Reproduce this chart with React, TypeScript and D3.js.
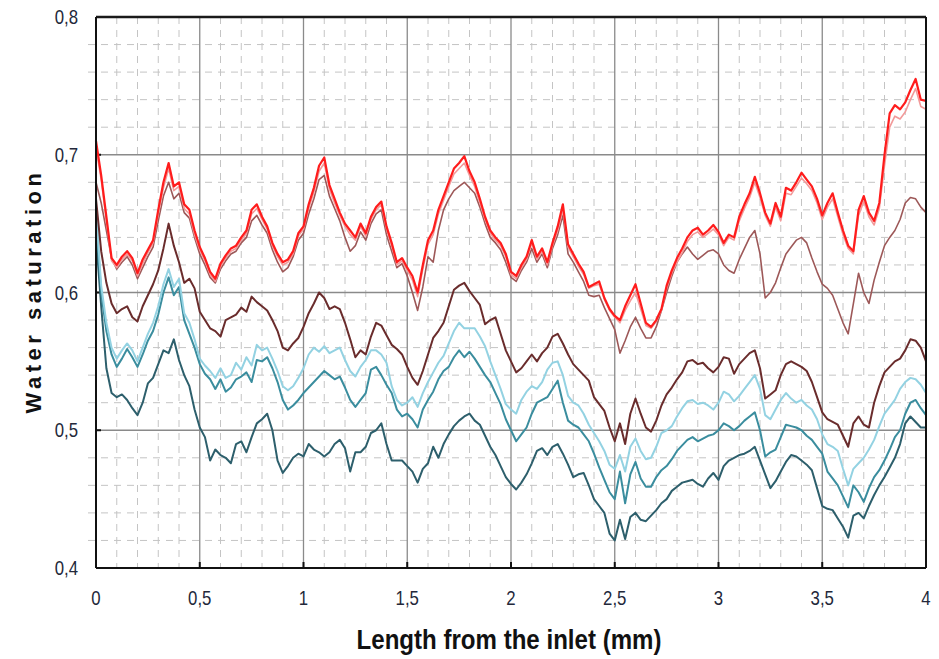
import React from "react";
import * as d3 from "d3";

// x positions: 0 .. 4 mm, step 0.025 (161 samples)
const STEP = 0.025;
const xTicks = [0, 0.5, 1, 1.5, 2, 2.5, 3, 3.5, 4];
const xTickLabels = ["0", "0,5", "1", "1,5", "2", "2,5", "3", "3,5", "4"];
const yTicks = [0.4, 0.5, 0.6, 0.7, 0.8];
const yTickLabels = ["0,4", "0,5", "0,6", "0,7", "0,8"];

const red = [
  0.710,0.685,0.655,0.625,0.620,0.626,0.630,0.625,0.614,0.624,
  0.631,0.638,0.660,0.680,0.694,0.677,0.680,0.664,0.660,0.645,
  0.633,0.625,0.615,0.610,0.621,0.627,0.632,0.634,0.640,0.645,
  0.660,0.664,0.655,0.648,0.636,0.628,0.622,0.624,0.630,0.643,
  0.648,0.664,0.676,0.692,0.698,0.678,0.668,0.658,0.650,0.645,
  0.640,0.650,0.643,0.655,0.662,0.666,0.648,0.636,0.622,0.625,
  0.618,0.612,0.600,0.620,0.638,0.645,0.660,0.670,0.680,0.690,
  0.694,0.699,0.688,0.680,0.668,0.655,0.645,0.640,0.636,0.628,
  0.615,0.612,0.620,0.626,0.638,0.626,0.632,0.622,0.636,0.648,
  0.664,0.635,0.628,0.621,0.615,0.604,0.606,0.608,0.596,0.588,
  0.583,0.580,0.590,0.598,0.606,0.592,0.578,0.575,0.580,0.588,
  0.605,0.616,0.625,0.632,0.640,0.645,0.647,0.642,0.645,0.649,
  0.644,0.636,0.642,0.640,0.655,0.664,0.672,0.684,0.672,0.658,
  0.650,0.665,0.655,0.676,0.674,0.680,0.687,0.682,0.677,0.668,
  0.656,0.665,0.672,0.658,0.645,0.634,0.630,0.660,0.670,0.658,
  0.652,0.665,0.700,0.730,0.736,0.733,0.738,0.747,0.755,0.740,
  0.739,
];

const pink = [
  0.705,0.682,0.652,0.623,0.618,0.624,0.628,0.623,0.612,0.621,
  0.629,0.636,0.657,0.676,0.690,0.674,0.677,0.661,0.657,0.642,
  0.631,0.623,0.613,0.608,0.619,0.625,0.630,0.632,0.638,0.643,
  0.657,0.661,0.653,0.646,0.634,0.626,0.620,0.622,0.628,0.641,
  0.646,0.661,0.673,0.688,0.694,0.675,0.665,0.656,0.648,0.642,
  0.638,0.648,0.641,0.653,0.660,0.664,0.646,0.634,0.620,0.623,
  0.616,0.609,0.597,0.617,0.635,0.642,0.657,0.667,0.677,0.686,
  0.690,0.694,0.685,0.677,0.665,0.653,0.643,0.638,0.634,0.626,
  0.613,0.610,0.618,0.624,0.636,0.624,0.630,0.620,0.634,0.645,
  0.660,0.633,0.626,0.619,0.613,0.603,0.605,0.606,0.595,0.587,
  0.582,0.578,0.587,0.594,0.600,0.588,0.576,0.574,0.579,0.587,
  0.603,0.614,0.622,0.629,0.637,0.642,0.644,0.640,0.643,0.646,
  0.642,0.634,0.640,0.638,0.652,0.661,0.669,0.680,0.669,0.656,
  0.648,0.662,0.652,0.672,0.671,0.677,0.683,0.679,0.674,0.665,
  0.653,0.662,0.668,0.655,0.642,0.632,0.628,0.656,0.666,0.655,
  0.649,0.661,0.692,0.720,0.728,0.726,0.731,0.740,0.748,0.735,
  0.733,
];

const rosy = [
  0.680,0.665,0.645,0.625,0.617,0.622,0.626,0.620,0.610,0.618,
  0.626,0.633,0.652,0.670,0.680,0.668,0.672,0.658,0.654,0.640,
  0.628,0.620,0.611,0.607,0.617,0.623,0.628,0.630,0.636,0.640,
  0.652,0.656,0.649,0.643,0.631,0.622,0.615,0.618,0.626,0.638,
  0.643,0.657,0.668,0.682,0.685,0.670,0.661,0.652,0.640,0.630,
  0.634,0.644,0.638,0.650,0.657,0.660,0.642,0.630,0.618,0.621,
  0.612,0.600,0.587,0.604,0.626,0.622,0.645,0.660,0.668,0.674,
  0.677,0.680,0.676,0.672,0.662,0.650,0.640,0.636,0.631,0.622,
  0.611,0.608,0.616,0.622,0.632,0.622,0.628,0.618,0.632,0.642,
  0.656,0.628,0.622,0.615,0.608,0.598,0.597,0.598,0.589,0.581,
  0.573,0.556,0.565,0.575,0.582,0.574,0.567,0.567,0.575,0.587,
  0.600,0.612,0.622,0.628,0.633,0.628,0.624,0.627,0.630,0.631,
  0.628,0.620,0.616,0.614,0.624,0.632,0.640,0.645,0.628,0.596,
  0.600,0.607,0.618,0.628,0.633,0.638,0.640,0.636,0.625,0.615,
  0.606,0.603,0.598,0.588,0.578,0.570,0.592,0.614,0.600,0.592,
  0.609,0.622,0.634,0.640,0.645,0.653,0.665,0.669,0.668,0.662,
  0.658,
];

const maroon = [
  0.668,0.630,0.607,0.592,0.585,0.588,0.590,0.582,0.579,0.590,
  0.598,0.606,0.616,0.632,0.650,0.634,0.622,0.607,0.610,0.603,
  0.586,0.580,0.574,0.572,0.568,0.580,0.582,0.584,0.589,0.586,
  0.597,0.593,0.590,0.587,0.580,0.572,0.560,0.558,0.563,0.567,
  0.575,0.585,0.592,0.600,0.596,0.588,0.590,0.588,0.578,0.566,
  0.553,0.558,0.555,0.568,0.578,0.576,0.569,0.562,0.559,0.555,
  0.546,0.538,0.533,0.543,0.555,0.567,0.572,0.578,0.590,0.602,
  0.605,0.607,0.601,0.596,0.591,0.577,0.580,0.582,0.570,0.558,
  0.550,0.542,0.545,0.550,0.555,0.550,0.556,0.560,0.568,0.570,
  0.563,0.555,0.548,0.544,0.540,0.536,0.524,0.519,0.514,0.502,
  0.492,0.505,0.490,0.512,0.523,0.512,0.502,0.499,0.507,0.518,
  0.526,0.531,0.537,0.542,0.550,0.551,0.548,0.549,0.545,0.542,
  0.546,0.553,0.552,0.541,0.548,0.552,0.556,0.558,0.545,0.523,
  0.526,0.529,0.540,0.548,0.550,0.548,0.546,0.543,0.535,0.524,
  0.513,0.508,0.506,0.504,0.496,0.488,0.505,0.510,0.504,0.502,
  0.520,0.532,0.542,0.546,0.550,0.552,0.558,0.566,0.565,0.560,
  0.550,
];

const lightCyan = [
  0.660,0.605,0.578,0.560,0.552,0.558,0.563,0.558,0.550,0.560,
  0.570,0.578,0.590,0.606,0.617,0.604,0.610,0.585,0.578,0.566,
  0.552,0.547,0.543,0.538,0.545,0.538,0.540,0.549,0.544,0.553,
  0.547,0.562,0.558,0.560,0.552,0.543,0.532,0.529,0.532,0.538,
  0.545,0.555,0.560,0.557,0.561,0.556,0.558,0.560,0.551,0.543,
  0.539,0.546,0.551,0.558,0.558,0.555,0.549,0.532,0.522,0.518,
  0.520,0.524,0.517,0.527,0.535,0.542,0.549,0.554,0.563,0.572,
  0.578,0.574,0.574,0.574,0.568,0.561,0.550,0.540,0.530,0.519,
  0.515,0.512,0.522,0.528,0.532,0.530,0.535,0.544,0.549,0.550,
  0.540,0.525,0.520,0.518,0.512,0.504,0.498,0.492,0.485,0.475,
  0.472,0.482,0.470,0.488,0.494,0.485,0.479,0.480,0.488,0.498,
  0.500,0.503,0.510,0.516,0.521,0.522,0.519,0.520,0.518,0.515,
  0.520,0.528,0.526,0.521,0.525,0.530,0.535,0.540,0.530,0.511,
  0.508,0.515,0.522,0.527,0.523,0.520,0.522,0.518,0.515,0.508,
  0.497,0.490,0.488,0.485,0.472,0.460,0.472,0.476,0.480,0.486,
  0.493,0.503,0.512,0.517,0.522,0.530,0.535,0.538,0.537,0.533,
  0.527,
];

const teal = [
  0.655,0.600,0.572,0.555,0.546,0.552,0.559,0.553,0.546,0.555,
  0.565,0.572,0.584,0.600,0.611,0.598,0.604,0.580,0.570,0.560,
  0.548,0.541,0.537,0.530,0.537,0.528,0.531,0.537,0.539,0.542,
  0.535,0.551,0.550,0.553,0.545,0.535,0.522,0.515,0.518,0.522,
  0.527,0.531,0.535,0.539,0.543,0.540,0.537,0.539,0.531,0.522,
  0.517,0.522,0.527,0.544,0.546,0.540,0.533,0.527,0.515,0.510,
  0.512,0.508,0.502,0.515,0.522,0.528,0.537,0.543,0.546,0.553,
  0.558,0.553,0.557,0.552,0.546,0.540,0.535,0.527,0.519,0.508,
  0.500,0.492,0.497,0.502,0.512,0.520,0.522,0.524,0.530,0.536,
  0.520,0.507,0.504,0.502,0.497,0.492,0.483,0.473,0.464,0.455,
  0.450,0.470,0.447,0.468,0.477,0.465,0.459,0.459,0.466,0.471,
  0.474,0.479,0.485,0.489,0.493,0.495,0.492,0.494,0.496,0.497,
  0.500,0.505,0.503,0.500,0.503,0.507,0.510,0.513,0.500,0.481,
  0.484,0.486,0.495,0.504,0.503,0.502,0.500,0.496,0.493,0.488,
  0.483,0.470,0.465,0.460,0.452,0.444,0.460,0.455,0.448,0.458,
  0.466,0.471,0.478,0.486,0.495,0.500,0.512,0.520,0.522,0.516,
  0.511,
];

const darkTeal = [
  0.640,0.590,0.545,0.527,0.524,0.526,0.522,0.516,0.511,0.520,
  0.534,0.538,0.548,0.558,0.556,0.566,0.551,0.540,0.532,0.515,
  0.502,0.495,0.478,0.486,0.482,0.480,0.476,0.490,0.492,0.484,
  0.495,0.505,0.508,0.512,0.500,0.478,0.469,0.474,0.480,0.483,
  0.481,0.490,0.486,0.484,0.481,0.484,0.490,0.493,0.487,0.470,
  0.484,0.484,0.488,0.498,0.500,0.505,0.490,0.478,0.478,0.478,
  0.474,0.470,0.462,0.472,0.476,0.488,0.480,0.490,0.497,0.503,
  0.507,0.510,0.512,0.507,0.504,0.496,0.488,0.482,0.474,0.466,
  0.461,0.457,0.462,0.468,0.476,0.485,0.487,0.482,0.488,0.490,
  0.483,0.475,0.466,0.468,0.469,0.460,0.450,0.445,0.440,0.425,
  0.420,0.435,0.421,0.437,0.440,0.435,0.434,0.438,0.442,0.447,
  0.450,0.456,0.459,0.462,0.463,0.464,0.461,0.459,0.465,0.469,
  0.464,0.474,0.478,0.480,0.482,0.483,0.485,0.488,0.478,0.468,
  0.458,0.463,0.470,0.477,0.482,0.481,0.478,0.475,0.471,0.458,
  0.445,0.443,0.442,0.436,0.430,0.422,0.438,0.440,0.436,0.445,
  0.453,0.460,0.466,0.473,0.480,0.490,0.505,0.510,0.506,0.502,
  0.502,
];

const seriesList = [
  { name: "darkTeal", values: darkTeal, color: "#2d5f6c", width: 2 },
  { name: "teal", values: teal, color: "#3a8d9e", width: 2 },
  { name: "lightCyan", values: lightCyan, color: "#93d2e2", width: 2 },
  { name: "maroon", values: maroon, color: "#6a2c2c", width: 2 },
  { name: "rosy", values: rosy, color: "#9d5858", width: 1.6 },
  { name: "pink", values: pink, color: "#f29a9a", width: 1.6 },
  { name: "red", values: red, color: "#ff1c1c", width: 2.2 },
];

const W = 939;
const H = 659;
const M = { left: 96, right: 926, top: 17, bottom: 568 };

export default function App() {
  const x = d3.scaleLinear().domain([0, 4]).range([M.left, M.right]);
  const y = d3.scaleLinear().domain([0.4, 0.8]).range([M.bottom, M.top]);

  const minorX = d3.range(1, 40).map((i) => i / 10).filter((v, i) => (i + 1) % 5 !== 0);
  const minorY = d3.range(1, 20).map((i) => 0.4 + i * 0.02).filter((v, i) => (i + 1) % 5 !== 0);

  const line = d3
    .line<number>()
    .x((_, i) => x(i * STEP))
    .y((d) => y(d));

  const font = "'Liberation Sans', Arial, sans-serif";

  return (
    <svg
      width={W}
      height={H}
      viewBox={`0 0 ${W} ${H}`}
      style={{ position: "absolute", left: 0, top: 0, background: "#fff" }}
    >
      <rect x={0} y={0} width={W} height={H} fill="#fff" />
      {/* minor grid */}
      <g stroke="#c4c4c4" strokeWidth={1} strokeDasharray="7 6">
        {minorX.map((v) => (
          <line key={"mx" + v} x1={x(v)} x2={x(v)} y1={M.top} y2={M.bottom} />
        ))}
        {minorY.map((v) => (
          <line key={"my" + v} x1={M.left - 8} x2={M.right} y1={y(v)} y2={y(v)} />
        ))}
      </g>
      {/* major grid */}
      <g stroke="#8a8a8a" strokeWidth={1.3}>
        {xTicks.slice(1, -1).map((v) => (
          <line key={"Mx" + v} x1={x(v)} x2={x(v)} y1={M.top} y2={M.bottom} />
        ))}
        {yTicks.slice(1, -1).map((v) => (
          <line key={"My" + v} x1={M.left} x2={M.right} y1={y(v)} y2={y(v)} />
        ))}
      </g>
      {/* tick marks */}
      <g stroke="#111" strokeWidth={2}>
        {xTicks.slice(1, -1).map((v) => (
          <line key={"tx" + v} x1={x(v)} x2={x(v)} y1={M.bottom} y2={M.bottom - 6} />
        ))}
        {yTicks.slice(1, -1).map((v) => (
          <line key={"ty" + v} x1={M.left} x2={M.left + 5} y1={y(v)} y2={y(v)} />
        ))}
      </g>
      {/* series */}
      <g fill="none" strokeLinejoin="round" strokeLinecap="round">
        {seriesList.map((s) => (
          <path key={s.name} d={line(s.values) || ""} stroke={s.color} strokeWidth={s.width} />
        ))}
      </g>
      {/* frame */}
      <line x1={M.left} x2={M.right} y1={M.top} y2={M.top} stroke="#1a1a1a" strokeWidth={2.6} />
      <line x1={M.left} x2={M.left} y1={M.top} y2={M.bottom} stroke="#111" strokeWidth={2} />
      <line x1={M.left} x2={M.right} y1={M.bottom} y2={M.bottom} stroke="#111" strokeWidth={2} />
      <line x1={M.right} x2={M.right} y1={M.top} y2={M.bottom} stroke="#111" strokeWidth={2} />
      {/* y tick labels */}
      <g fontFamily={font} fontSize={20} fill="#23283a" textAnchor="end">
        {yTicks.map((v, i) => (
          <text key={"yl" + v} transform={`translate(78,${y(v) + 7}) scale(0.84,1)`}>
            {yTickLabels[i]}
          </text>
        ))}
      </g>
      {/* x tick labels */}
      <g fontFamily={font} fontSize={20} fill="#23283a" textAnchor="middle">
        {xTicks.map((v, i) => (
          <text key={"xl" + v} transform={`translate(${x(v)},605) scale(0.84,1)`}>
            {xTickLabels[i]}
          </text>
        ))}
      </g>
      {/* axis titles */}
      <text
        transform="translate(509,649) scale(0.86,1)"
        textAnchor="middle"
        fontFamily={font}
        fontWeight="bold"
        fontSize={28}
        fill="#111"
      >
        Length from the inlet (mm)
      </text>
      <text
        transform="translate(41,291) rotate(-90)"
        textAnchor="middle"
        fontFamily={font}
        fontWeight="bold"
        fontSize={22}
        letterSpacing={4.5}
        fill="#111"
      >
        Water saturation
      </text>
    </svg>
  );
}
